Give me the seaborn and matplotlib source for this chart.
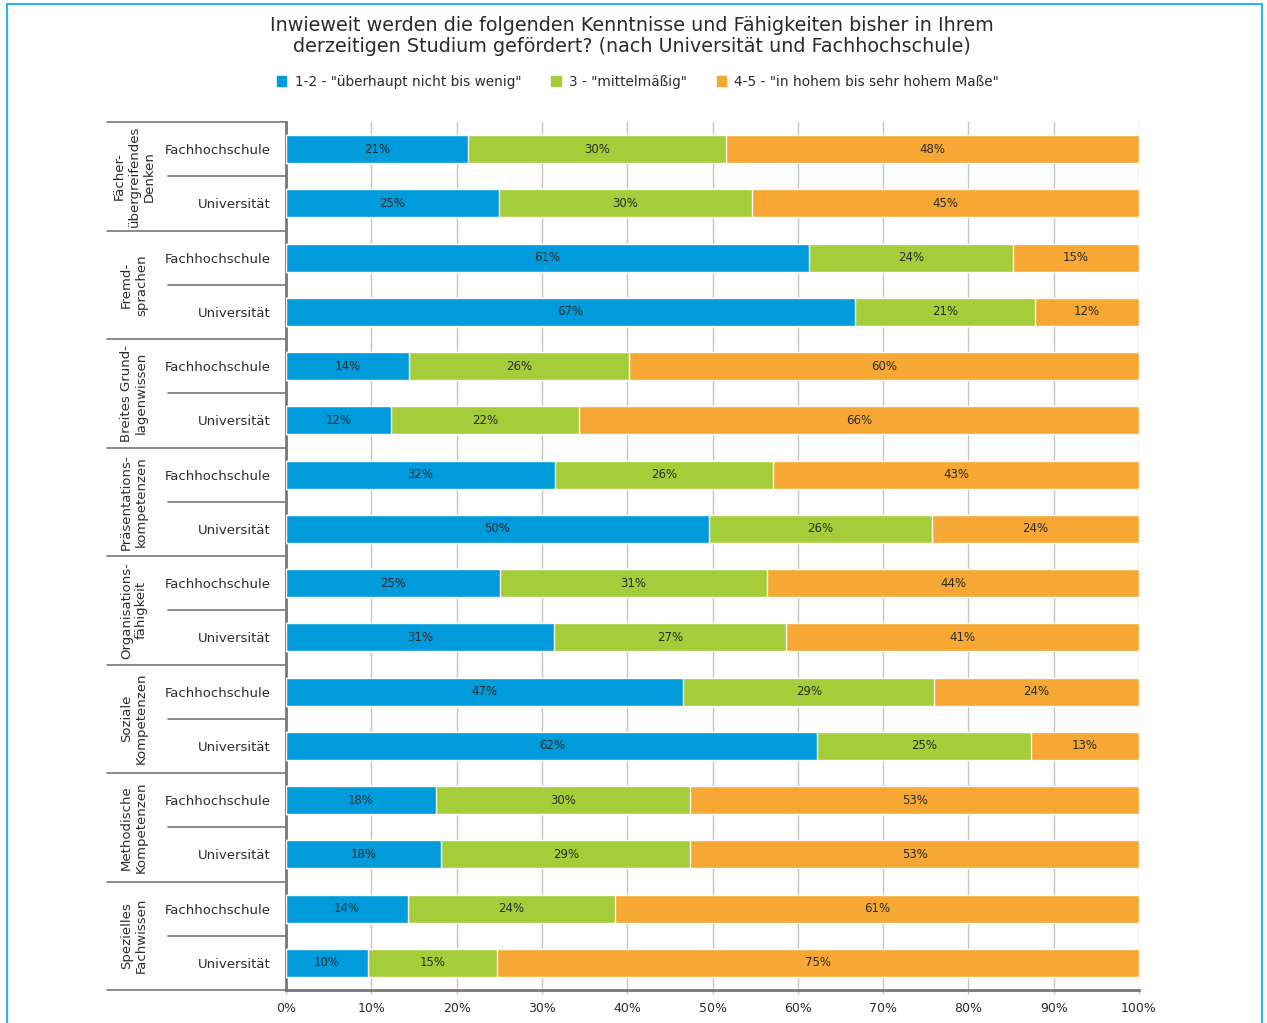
import matplotlib
matplotlib.use("Agg")
import matplotlib.pyplot as plt
import matplotlib.patches as mpatches
import matplotlib.transforms as mtransforms
import numpy as np
import pandas as pd
import seaborn as sns

# ---- data -------------------------------------------------------------
groups = [
    "Fächer-\nübergreifendes\nDenken",
    "Fremd-\nsprachen",
    "Breites Grund-\nlagenwissen",
    "Präsentations-\nkompetenzen",
    "Organisations-\nfähigkeit",
    "Soziale\nKompetenzen",
    "Methodische\nKompetenzen",
    "Spezielles\nFachwissen",
]
institutions = ["Fachhochschule", "Universität"]

# shares in percent, two rows (FH, Uni) per group, top to bottom
low = [21.3, 25.0, 61.3, 66.7, 14.4, 12.3, 31.5, 49.6,
       25.1, 31.4, 46.6, 62.3, 17.6, 18.2, 14.3, 9.6]
mid = [30.3, 29.6, 23.9, 21.1, 25.8, 22.1, 25.6, 26.1,
       31.3, 27.2, 29.4, 25.0, 29.8, 29.2, 24.3, 15.1]
high = [48.4, 45.4, 14.8, 12.2, 59.8, 65.6, 42.9, 24.3,
        43.6, 41.4, 24.0, 12.7, 52.6, 52.6, 61.4, 75.3]

series_labels = ['1-2 - "überhaupt nicht bis wenig"',
                 '3 - "mittelmäßig"',
                 '4-5 - "in hohem bis sehr hohem Maße"']
colors = ["#009bdb", "#a5cd39", "#f7a733"]
x_ticks = [0, 10, 20, 30, 40, 50, 60, 70, 80, 90, 100]

title = ("Inwieweit werden die folgenden Kenntnisse und Fähigkeiten bisher in Ihrem\n"
         "derzeitigen Studium gefördert? (nach Universität und Fachhochschule)")

# ---- table ------------------------------------------------------------
rows = [f"{g}|{inst}" for g in groups for inst in institutions]
df = pd.DataFrame({"row": rows, "low": low, "mid": mid, "high": high})
df["c1"] = df["low"]
df["c2"] = df["low"] + df["mid"]
df["c3"] = df["low"] + df["mid"] + df["high"]

sns.set_theme(style="white")
plt.rcParams["font.family"] = ["DejaVu Sans"]
text_col = "#2b2b2b"

fig = plt.figure(figsize=(12.67, 10.23), dpi=100)
ax = fig.add_axes([286 / 1267, 33 / 1023, 853 / 1267, 868 / 1023])

# stacked bars: draw cumulative totals from the back to the front
for col, c in zip(["c3", "c2", "c1"], colors[::-1]):
    sns.barplot(data=df, x=col, y="row", order=rows, color=c,
                orient="h", width=0.52, saturation=1, ax=ax, zorder=3)

# value labels centred in each segment
for i, r in df.iterrows():
    starts = [0, r["c1"], r["c2"]]
    for s, v in zip(starts, [r["low"], r["mid"], r["high"]]):
        ax.text(s + v / 2, i, f"{round(v):d}%", ha="center", va="center",
                fontsize=8.5, color=text_col, zorder=5)

ax.set_xlim(0, 100)
ax.set_ylim(len(rows) - 0.5, -0.5)
ax.set_xticks(x_ticks)
ax.set_xticklabels([f"{t}%" for t in x_ticks], fontsize=9, color=text_col)
ax.xaxis.grid(True, color="#c4c4c4", linewidth=1, zorder=0)
ax.set_axisbelow(True)
ax.tick_params(axis="x", length=3, width=1, color="#c4c4c4", pad=6, bottom=True)

ax.set_yticks(range(len(rows)))
ax.set_yticklabels([inst for _ in groups for inst in institutions],
                   fontsize=9.5, color=text_col)
ax.tick_params(axis="y", length=0, pad=11)
ax.set_xlabel("")
ax.set_ylabel("")

for side in ["top", "right"]:
    ax.spines[side].set_visible(False)
for side in ["left", "bottom"]:
    ax.spines[side].set_color("#777777")
    ax.spines[side].set_linewidth(2)

# row / group separators on the label side
trans = mtransforms.blended_transform_factory(ax.transAxes, ax.transData)
x_outer = (107 - 286) / 853
x_inner = (168 - 286) / 853
for k in range(len(rows) + 1):
    y = k - 0.5
    x0 = x_outer if k % 2 == 0 else x_inner
    ax.plot([x0, 0], [y, y], transform=trans, color="#777777",
            linewidth=1.2, clip_on=False, zorder=6)

x_group = (134 - 286) / 853
for g_i, g in enumerate(groups):
    ax.text(x_group, 2 * g_i + 0.5, g, transform=trans, rotation=90,
            ha="center", va="center", fontsize=9.5, color=text_col,
            linespacing=1.2, multialignment="center")

# title and legend
fig.text(632 / 1267, 1 - 36 / 1023, title, ha="center", va="center",
         fontsize=13.8, color=text_col, linespacing=1.1)
handles = [mpatches.Patch(color=c, label=l) for c, l in zip(colors, series_labels)]
leg = fig.legend(handles=handles, loc="center", ncol=3,
                 bbox_to_anchor=(638 / 1267, 1 - 82 / 1023), frameon=False,
                 fontsize=9.8, handlelength=0.7, handleheight=0.7,
                 handletextpad=0.6, columnspacing=2.2)
for t in leg.get_texts():
    t.set_color(text_col)

# outer frame
fig.patches.append(mpatches.Rectangle((7 / 1267, -0.02), 1255 / 1267, 1.0 - 4 / 1023 + 0.02,
                                      transform=fig.transFigure, fill=False,
                                      edgecolor="#29b6e8", linewidth=1.5))

fig.savefig("out.png", dpi=100)
